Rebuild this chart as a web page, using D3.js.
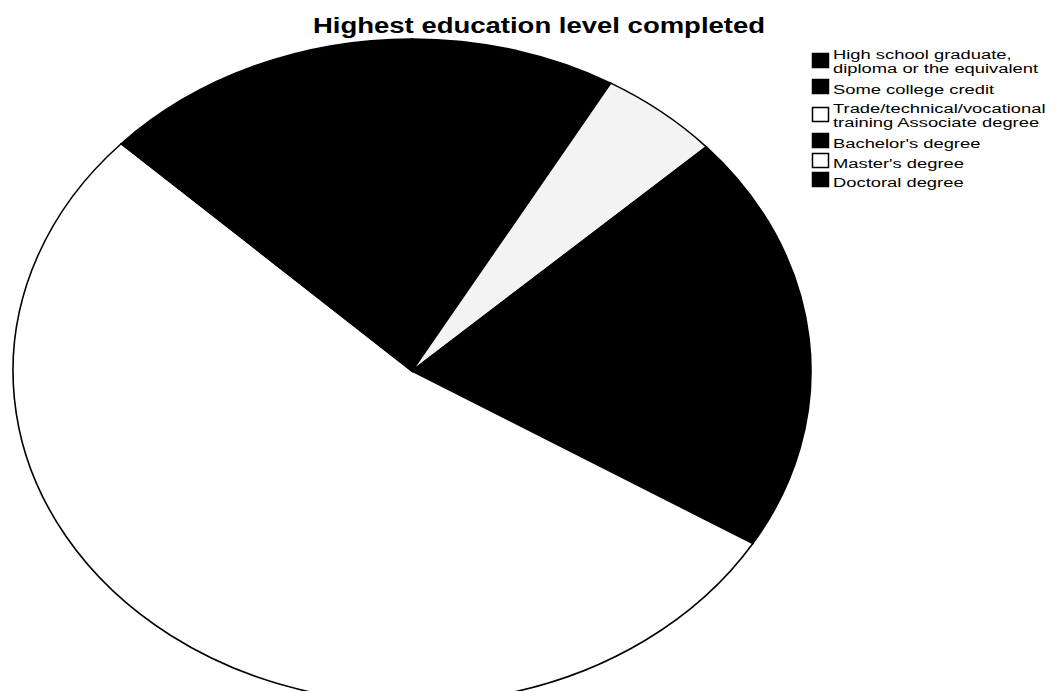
<!DOCTYPE html>
<html>
<head>
<meta charset="utf-8">
<script src="https://cdn.jsdelivr.net/npm/d3@7"></script>
<style>
  html, body { margin: 0; padding: 0; background: #fff; }
  svg { display: block; }
  text { font-family: "Liberation Sans", Arial, sans-serif; fill: #000; }
</style>
</head>
<body>
<svg id="chart" width="1057" height="691"></svg>
<script>
// ---- data ----
const title = "Highest education level completed";
const categories = [
  "High school graduate, diploma or the equivalent",
  "Some college credit",
  "Trade/technical/vocational training Associate degree",
  "Bachelor's degree",
  "Master's degree",
  "Doctoral degree"
];
const legendLines = [
  ["High school graduate,", "diploma or the equivalent"],
  ["Some college credit"],
  ["Trade/technical/vocational", "training Associate degree"],
  ["Bachelor's degree"],
  ["Master's degree"],
  ["Doctoral degree"]
];
const values = [4.2, 4.1, 4.9, 20.5, 53.3, 13.0]; // percent (estimated)

// ---- styles ----
const sliceFills = ["#000", "#000", "#f3f3f3", "#000", "#fff", "#000"];
const swatchFills = ["#000", "#000", "#fff", "#000", "#fff", "#000"];

const svg = d3.select("#chart");

// ellipse pie geometry
const cx = 412, cy = 371, rx = 399, ry = 332;

const pie = d3.pie().sort(null).value(d => d.v).startAngle(0).endAngle(2 * Math.PI);
const arcs = pie(values.map((v, i) => ({ v, i })));
const arc = d3.arc().innerRadius(0).outerRadius(ry);

const pg = svg.append("g")
  .attr("transform", `translate(${cx},${cy}) scale(${rx / ry},1)`);

pg.selectAll("path.slice")
  .data(arcs)
  .join("path")
  .attr("class", "slice")
  .attr("d", arc)
  .attr("fill", d => sliceFills[d.data.i])
  .attr("stroke", "#000")
  .attr("stroke-width", 1.6)
  .attr("vector-effect", "non-scaling-stroke");

// title
svg.append("g")
  .attr("transform", `translate(539,33) scale(1.25,1)`)
  .append("text")
  .attr("text-anchor", "middle")
  .attr("font-weight", "bold")
  .attr("font-size", 22)
  .text(title);

// legend
const lsx = 1.36;
const legendTop = [53, 79, 107, 133, 153, 172];
const lg = svg.append("g");
legendLines.forEach((lines, i) => {
  const y0 = legendTop[i];
  const twoLine = lines.length > 1;
  lg.append("rect")
    .attr("x", 812.5)
    .attr("y", y0 + 0.5)
    .attr("width", 16)
    .attr("height", 14)
    .attr("fill", swatchFills[i])
    .attr("stroke", "#000")
    .attr("stroke-width", 1.5);
  const baseFirst = twoLine ? y0 + 6 : y0 + 15;
  lines.forEach((ln, j) => {
    lg.append("g")
      .attr("transform", `translate(833,${baseFirst + j * 13.7}) scale(${lsx},1)`)
      .append("text")
      .attr("font-size", 13.5)
      .text(ln);
  });
});
</script>
</body>
</html>
